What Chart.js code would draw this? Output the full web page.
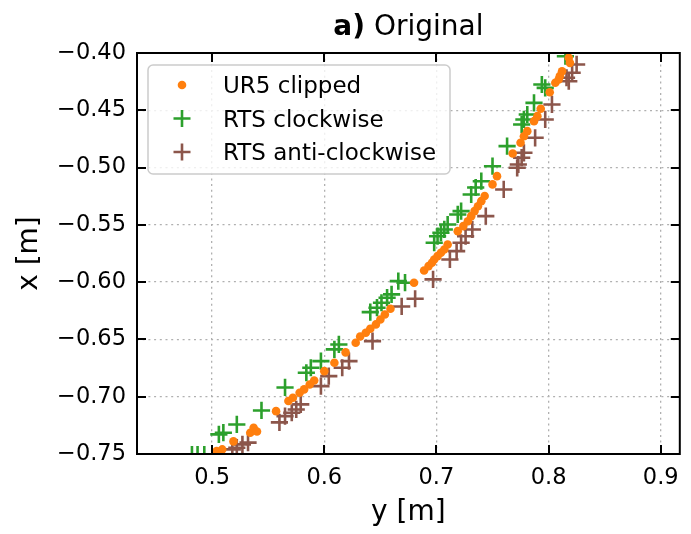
<!DOCTYPE html>
<html>
<head>
<meta charset="utf-8">
<script src="https://cdn.jsdelivr.net/npm/chart.js@4.4.1/dist/chart.umd.min.js"></script>
<style>
    html, body { margin: 0; padding: 0; background: #fff; }
    #wrap { width: 691px; height: 534px; }
</style>
</head>
<body>
<div id="wrap"><canvas id="trajChart" width="691" height="534"></canvas></div>
<script>
// values (y [m] on the horizontal axis, x [m] on the vertical)
const ur5X = [0.504, 0.509, 0.519, 0.534, 0.537, 0.540, 0.557, 0.568, 0.572, 0.578, 0.582, 0.587, 0.591,
    0.600, 0.609, 0.619, 0.628, 0.632, 0.637, 0.641, 0.646, 0.650, 0.654, 0.659,
    0.680, 0.689, 0.693, 0.696, 0.698, 0.701, 0.704, 0.707, 0.710,
    0.719, 0.724, 0.728, 0.731, 0.734, 0.737, 0.740, 0.743, 0.750, 0.754,
    0.768, 0.775, 0.778, 0.781, 0.787, 0.790, 0.793, 0.801, 0.806, 0.809, 0.810, 0.812, 0.818, 0.819];
const ur5Y = [-0.7475, -0.7460, -0.7390, -0.7314, -0.7271, -0.7303, -0.7126, -0.7038, -0.7009, -0.6965, -0.6936, -0.6893, -0.6858,
    -0.6777, -0.6703, -0.6613, -0.6529, -0.6474, -0.6442, -0.6407, -0.6369, -0.6326, -0.6282, -0.6232,
    -0.6005, -0.5898, -0.5860, -0.5831, -0.5802, -0.5773, -0.5743, -0.5715, -0.5671,
    -0.5555, -0.5511, -0.5468, -0.5424, -0.5380, -0.5337, -0.5293, -0.5248, -0.5147, -0.5075,
    -0.4877, -0.4784, -0.4726, -0.4682, -0.4595, -0.4551, -0.4487, -0.4342, -0.4260, -0.4231, -0.4202, -0.4159, -0.4042, -0.4086];

const cwX = [0.482, 0.487, 0.493, 0.506, 0.510, 0.522, 0.544, 0.565, 0.584, 0.588, 0.597, 0.609, 0.613,
    0.641, 0.647, 0.651, 0.656, 0.660, 0.666, 0.672, 0.698, 0.701, 0.704, 0.707, 0.710,
    0.719, 0.722, 0.731, 0.735, 0.740, 0.750, 0.763, 0.776, 0.778, 0.781, 0.787, 0.794, 0.797, 0.815];
const cwY = [-0.7505, -0.7505, -0.7505, -0.7329, -0.7314, -0.7242, -0.7120, -0.6919, -0.6791, -0.6747, -0.6689, -0.6587, -0.6544,
    -0.6262, -0.6223, -0.6180, -0.6136, -0.6107, -0.5991, -0.6005, -0.5656, -0.5599, -0.5569, -0.5540, -0.5497,
    -0.5409, -0.5380, -0.5235, -0.5174, -0.5119, -0.4988, -0.4813, -0.4624, -0.4580, -0.4537, -0.4435, -0.4275, -0.4304, -0.4028];

const acwX = [0.518, 0.522, 0.527, 0.532, 0.560, 0.565, 0.571, 0.575, 0.579, 0.597, 0.604, 0.616, 0.622,
    0.643, 0.669, 0.681, 0.697, 0.712, 0.718, 0.722, 0.726, 0.732, 0.744, 0.760,
    0.772, 0.773, 0.776, 0.778, 0.788, 0.797, 0.803, 0.818, 0.816, 0.821, 0.825];
const acwY = [-0.7460, -0.7445, -0.7416, -0.7401, -0.7224, -0.7169, -0.7140, -0.7111, -0.7067, -0.6908, -0.6820, -0.6747, -0.6689,
    -0.6515, -0.6212, -0.6145, -0.5976, -0.5802, -0.5729, -0.5656, -0.5599, -0.5540, -0.5424, -0.5191,
    -0.5002, -0.4973, -0.4914, -0.4871, -0.4740, -0.4580, -0.4449, -0.4246, -0.4216, -0.4173, -0.4100];

const xTicks = [0.5, 0.6, 0.7, 0.8, 0.9];
const yTicks = [-0.75, -0.70, -0.65, -0.60, -0.55, -0.50, -0.45, -0.40];

const FONT = "'DejaVu Sans', sans-serif";

function toPoints(xs, ys) {
    return xs.map((v, i) => ({ x: v, y: ys[i] }));
}

// box, inward ticks, legend and title drawn on top like matplotlib does
const framePlugin = {
    id: 'frame',
    afterDatasetsDraw(chart) {
        const { ctx, chartArea: a, scales } = chart;
        ctx.save();
        ctx.strokeStyle = '#000';
        ctx.lineWidth = 2;
        ctx.strokeRect(a.left, a.top, a.right - a.left, a.bottom - a.top);
        ctx.beginPath();
        const len = 9;
        xTicks.forEach(v => {
            const px = Math.round(scales.x.getPixelForValue(v));
            ctx.moveTo(px, a.bottom); ctx.lineTo(px, a.bottom - len);
            ctx.moveTo(px, a.top); ctx.lineTo(px, a.top + len);
        });
        yTicks.forEach(v => {
            const py = Math.round(scales.y.getPixelForValue(v));
            ctx.moveTo(a.left, py); ctx.lineTo(a.left + len, py);
            ctx.moveTo(a.right, py); ctx.lineTo(a.right - len, py);
        });
        ctx.stroke();
        ctx.restore();
    },
    afterDraw(chart) {
        const { ctx, chartArea: a } = chart;
        ctx.save();

        // title
        const boldPart = 'a)';
        const restPart = ' Original';
        ctx.font = 'bold 28px ' + FONT;
        const w1 = ctx.measureText(boldPart).width;
        ctx.font = '28px ' + FONT;
        const w2 = ctx.measureText(restPart).width;
        const cx = (a.left + a.right) / 2;
        let tx = cx - (w1 + w2) / 2;
        ctx.fillStyle = '#000';
        ctx.textBaseline = 'alphabetic';
        ctx.font = 'bold 28px ' + FONT;
        ctx.fillText(boldPart, tx, 35);
        ctx.font = '28px ' + FONT;
        ctx.fillText(restPart, tx + w1, 35);

        // legend
        const box = { x: 148, y: 65, w: 302, h: 109 };
        ctx.beginPath();
        ctx.roundRect(box.x, box.y, box.w, box.h, 5);
        ctx.fillStyle = 'rgba(255,255,255,0.8)';
        ctx.fill();
        ctx.strokeStyle = '#cccccc';
        ctx.lineWidth = 1.5;
        ctx.stroke();

        const rows = [85, 118.5, 152];
        const mx = 182;
        ctx.font = '23px ' + FONT;
        chart.data.datasets.forEach((ds, i) => {
            const my = rows[i];
            if (ds.pointStyle === 'circle') {
                ctx.beginPath();
                ctx.arc(mx, my, 4.3, 0, Math.PI * 2);
                ctx.fillStyle = ds.backgroundColor;
                ctx.fill();
            } else {
                ctx.beginPath();
                ctx.moveTo(mx - 8.5, my); ctx.lineTo(mx + 8.5, my);
                ctx.moveTo(mx, my - 8.5); ctx.lineTo(mx, my + 8.5);
                ctx.strokeStyle = ds.borderColor;
                ctx.lineWidth = 2.6;
                ctx.stroke();
            }
            ctx.fillStyle = '#000';
            ctx.textBaseline = 'alphabetic';
            ctx.fillText(ds.label, 223, my + 8);
        });
        ctx.restore();
    }
};

new Chart(document.getElementById('trajChart'), {
    type: 'scatter',
    data: {
        datasets: [{
            label: 'UR5 clipped',
            data: toPoints(ur5X, ur5Y),
            pointStyle: 'circle',
            pointRadius: 4.3,
            borderWidth: 0,
            backgroundColor: '#ff7f0e',
            borderColor: '#ff7f0e',
            clip: 0
        }, {
            label: 'RTS clockwise',
            data: toPoints(cwX, cwY),
            pointStyle: 'cross',
            pointRadius: 8.6,
            borderWidth: 2.6,
            backgroundColor: '#2ca02c',
            borderColor: '#2ca02c',
            clip: 0
        }, {
            label: 'RTS anti-clockwise',
            data: toPoints(acwX, acwY),
            pointStyle: 'cross',
            pointRadius: 8.6,
            borderWidth: 2.6,
            backgroundColor: '#8c564b',
            borderColor: '#8c564b',
            clip: 0
        }]
    },
    options: {
        responsive: false,
        animation: false,
        devicePixelRatio: 1,
        layout: { padding: { top: 53, right: 4, left: 0, bottom: 0 } },
        plugins: { legend: { display: false }, tooltip: { enabled: false } },
        scales: {
            x: {
                type: 'linear',
                min: 0.433,
                max: 0.917,
                afterBuildTicks: s => { s.ticks = xTicks.map(v => ({ value: v })); },
                afterFit: s => { s.height = 80; },
                ticks: {
                    padding: 11,
                    color: '#000',
                    font: { family: FONT, size: 22.5 },
                    callback: v => v.toFixed(1)
                },
                grid: { color: '#b0b0b0', lineWidth: 1.3, drawTicks: false },
                border: { display: false, dash: [2, 3.7] },
                title: {
                    display: true,
                    text: 'y [m]',
                    color: '#000',
                    font: { family: FONT, size: 28 },
                    padding: { top: 0, bottom: 4 }
                }
            },
            y: {
                type: 'linear',
                min: -0.75,
                max: -0.40,
                afterBuildTicks: s => { s.ticks = yTicks.map(v => ({ value: v })); },
                afterFit: s => { s.width = 137; },
                ticks: {
                    padding: 11,
                    color: '#000',
                    font: { family: FONT, size: 22.5 },
                    callback: v => '\u2212' + Math.abs(v).toFixed(2)
                },
                grid: { color: '#b0b0b0', lineWidth: 1.3, drawTicks: false },
                border: { display: false, dash: [2, 3.7] },
                title: {
                    display: true,
                    text: 'x [m]',
                    color: '#000',
                    font: { family: FONT, size: 28 },
                    padding: { top: 12.5, bottom: 0 }
                }
            }
        }
    },
    plugins: [framePlugin]
});
</script>
</body>
</html>
